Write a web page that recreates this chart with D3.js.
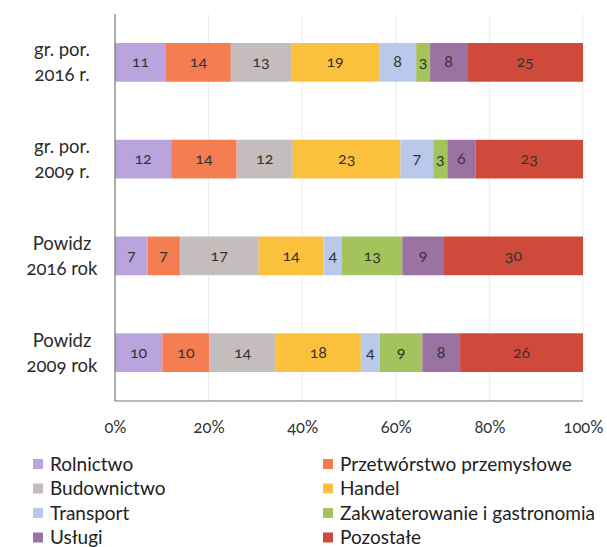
<!DOCTYPE html>
<html>
<head>
<meta charset="utf-8">
<script src="https://cdn.jsdelivr.net/npm/d3@7"></script>
<style>
  html, body { margin: 0; padding: 0; background: #fff; }
  svg { display: block; }
  .onum { font-variant-numeric: oldstyle-nums; font-feature-settings: "onum" 1; }
</style>
</head>
<body>
<svg id="chart" width="607" height="547"></svg>
<script>
const categories = [
  ["gr. por.", "2016 r."],
  ["gr. por.", "2009 r."],
  ["Powidz", "2016 rok"],
  ["Powidz", "2009 rok"]
];
const seriesNames = ["Rolnictwo", "Przetwórstwo przemysłowe", "Budownictwo", "Handel",
  "Transport", "Zakwaterowanie i gastronomia", "Usługi", "Pozostałe"];
const seriesColors = ["#b9a4dd", "#f47d52", "#c5bdbd", "#fcc13c", "#b8c9eb", "#a4c35c", "#9a73a2", "#d04a3b"];
const rolnictwo    = [11, 12, 7, 10];
const przetworstwo = [14, 14, 7, 10];
const budownictwo  = [13, 12, 17, 14];
const handel       = [19, 23, 14, 18];
const transport    = [8, 7, 4, 4];
const zakwaterowanie = [3, 3, 13, 9];
const uslugi       = [8, 6, 9, 8];
const pozostale    = [25, 23, 30, 26];
const tickValues = [0, 0.2, 0.4, 0.6, 0.8, 1.0];
const tickLabels = ["0%", "20%", "40%", "60%", "80%", "100%"];

const seriesValues = [rolnictwo, przetworstwo, budownictwo, handel, transport, zakwaterowanie, uslugi, pozostale];
const rows = categories.map((c, i) => {
  const r = { key: i };
  seriesNames.forEach((s, j) => r[s] = seriesValues[j][i]);
  return r;
});

const svg = d3.select("#chart");
const margin = { left: 115, right: 24, top: 14, bottom: 146 };
const W = 607, H = 547;

const x = d3.scaleLinear().domain([0, 1]).range([margin.left, W - margin.right]);
const y = d3.scaleBand().domain(d3.range(categories.length))
  .range([margin.top, H - margin.bottom]).paddingInner(0.6).paddingOuter(0.3);

const stack = d3.stack().keys(seriesNames).offset(d3.stackOffsetExpand);
const stacked = stack(rows);

// gridlines
svg.append("g").selectAll("line").data(tickValues.slice(1)).join("line")
  .attr("x1", d => x(d)).attr("x2", d => x(d))
  .attr("y1", margin.top).attr("y2", H - margin.bottom)
  .attr("stroke", "#ececec").attr("stroke-width", 1);

// bars
const g = svg.append("g");
stacked.forEach((layer, j) => {
  g.append("g").attr("fill", seriesColors[j]).selectAll("rect").data(layer).join("rect")
    .attr("x", d => x(d[0]))
    .attr("width", d => x(d[1]) - x(d[0]))
    .attr("y", (d, i) => y(i))
    .attr("height", y.bandwidth());
  g.append("g").selectAll("text").data(layer).join("text")
    .attr("class", "onum")
    .attr("x", d => (x(d[0]) + x(d[1])) / 2)
    .attr("y", (d, i) => y(i) + y.bandwidth() / 2 + 5)
    .attr("text-anchor", "middle")
    .attr("font-family", "Lato, sans-serif")
    .attr("font-size", 16)
    .attr("fill", "#333")
    .text((d, i) => seriesValues[j][i]);
});

// axes lines
svg.append("line")
  .attr("x1", x(0)).attr("x2", x(0))
  .attr("y1", margin.top).attr("y2", H - margin.bottom)
  .attr("stroke", "#777").attr("stroke-width", 1.2);
svg.append("line")
  .attr("x1", x(0)).attr("x2", x(1))
  .attr("y1", H - margin.bottom).attr("y2", H - margin.bottom)
  .attr("stroke", "#777").attr("stroke-width", 1.2);

// x tick labels
const xAxis = d3.axisBottom(x).tickValues(tickValues).tickFormat((d, i) => tickLabels[i]).tickSize(0).tickPadding(20);
const xg = svg.append("g").attr("transform", `translate(0,${H - margin.bottom})`).call(xAxis);
xg.select(".domain").remove();
xg.selectAll("text").attr("class", "onum").attr("font-family", "Lato, sans-serif")
  .attr("font-size", 16.5).attr("fill", "#333");

// y category labels
const yl = svg.append("g");
categories.forEach((c, i) => {
  const cy = y(i) + y.bandwidth() / 2;
  const t = yl.append("text").attr("class", "onum")
    .attr("x", 62).attr("text-anchor", "middle")
    .attr("font-family", "Lato, sans-serif").attr("font-size", 18.5).attr("fill", "#2b2b2b");
  t.append("tspan").attr("x", 62).attr("y", cy - 6).text(c[0]);
  t.append("tspan").attr("x", 62).attr("y", cy + 19).text(c[1]);
});

// legend
const leg = svg.append("g");
seriesNames.forEach((s, j) => {
  const col = j % 2, row = Math.floor(j / 2);
  const lx = col === 0 ? 33 : 323;
  const ly = 464 + row * 24.5;
  leg.append("rect").attr("x", lx).attr("y", ly - 5).attr("width", 10).attr("height", 10)
    .attr("fill", seriesColors[j]);
  leg.append("text").attr("x", lx + 17).attr("y", ly + 6.5)
    .attr("font-family", "Lato, sans-serif").attr("font-size", 19).attr("fill", "#222")
    .text(s);
});
</script>
</body>
</html>
